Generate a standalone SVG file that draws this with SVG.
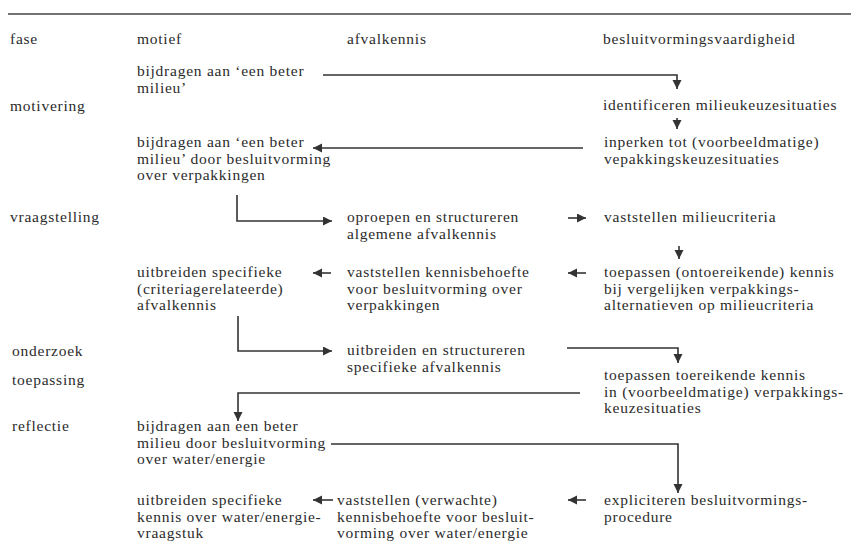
<svg xmlns="http://www.w3.org/2000/svg" width="851" height="552" viewBox="0 0 851 552">
  <style>
    text { font-family: "Liberation Serif", "Times New Roman", serif; font-size: 15.5px; fill: #2b2b2b; letter-spacing: 0.75px; }
    .c { fill: none; stroke: #333; stroke-width: 1.6; }
    .rule { stroke: #444; stroke-width: 1.5; }
  </style>
  <defs>
    <marker id="ah" markerUnits="userSpaceOnUse" markerWidth="10" markerHeight="10" refX="9" refY="4.5" orient="auto">
      <path d="M0,0 L9,4.5 L0,9 z" fill="#333"/>
    </marker>
  </defs>
  <rect width="851" height="552" fill="#fff"/>

  <!-- table header -->
  <line class="rule" x1="8" y1="14" x2="851" y2="14"/>
  <g id="header">
    <text x="10" y="44">fase</text>
    <text x="137" y="44">motief</text>
    <text x="347" y="44">afvalkennis</text>
    <text x="603" y="44">besluitvormingsvaardigheid</text>
  </g>

  <!-- phase labels -->
  <g id="phases">
    <text x="10" y="111">motivering</text>
    <text x="10" y="222">vraagstelling</text>
    <text x="12" y="356">onderzoek</text>
    <text x="12" y="385">toepassing</text>
    <text x="12" y="431">reflectie</text>
  </g>

  <!-- steps -->
  <g id="motief-milieu">
    <text x="137" y="76">bijdragen aan ‘een beter</text>
    <text x="137" y="92.5">milieu’</text>
  </g>
  <g id="identificeren">
    <text x="603" y="110">identificeren milieukeuzesituaties</text>
  </g>
  <g id="inperken">
    <text x="604" y="147">inperken tot (voorbeeldmatige)</text>
    <text x="604" y="163.5">vepakkingskeuzesituaties</text>
  </g>
  <g id="motief-verpakkingen">
    <text x="137" y="147">bijdragen aan ‘een beter</text>
    <text x="137" y="163.5">milieu’ door besluitvorming</text>
    <text x="137" y="180">over verpakkingen</text>
  </g>
  <g id="oproepen">
    <text x="347" y="222">oproepen en structureren</text>
    <text x="347" y="238.5">algemene afvalkennis</text>
  </g>
  <g id="milieucriteria">
    <text x="604" y="222">vaststellen milieucriteria</text>
  </g>
  <g id="uitbreiden-criteria">
    <text x="137" y="277">uitbreiden specifieke</text>
    <text x="137" y="293.5">(criteriagerelateerde)</text>
    <text x="137" y="310">afvalkennis</text>
  </g>
  <g id="kennisbehoefte">
    <text x="347" y="277">vaststellen kennisbehoefte</text>
    <text x="347" y="293.5">voor besluitvorming over</text>
    <text x="347" y="310">verpakkingen</text>
  </g>
  <g id="ontoereikend">
    <text x="604" y="277">toepassen (ontoereikende) kennis</text>
    <text x="604" y="293.5">bij vergelijken verpakkings-</text>
    <text x="604" y="310">alternatieven op milieucriteria</text>
  </g>
  <g id="uitbreiden-structureren">
    <text x="347" y="355">uitbreiden en structureren</text>
    <text x="347" y="371.5">specifieke afvalkennis</text>
  </g>
  <g id="toereikend">
    <text x="604" y="380">toepassen toereikende kennis</text>
    <text x="604" y="396.5">in (voorbeeldmatige) verpakkings-</text>
    <text x="604" y="413">keuzesituaties</text>
  </g>
  <g id="motief-water">
    <text x="137" y="431">bijdragen aan een beter</text>
    <text x="137" y="447.5">milieu door besluitvorming</text>
    <text x="137" y="464">over water/energie</text>
  </g>
  <g id="uitbreiden-water">
    <text x="137" y="505">uitbreiden specifieke</text>
    <text x="137" y="521.5">kennis over water/energie-</text>
    <text x="137" y="538">vraagstuk</text>
  </g>
  <g id="verwachte-behoefte">
    <text x="337" y="505">vaststellen (verwachte)</text>
    <text x="337" y="521.5">kennisbehoefte voor besluit-</text>
    <text x="337" y="538">vorming over water/energie</text>
  </g>
  <g id="expliciteren">
    <text x="604" y="505">expliciteren besluitvormings-</text>
    <text x="604" y="521.5">procedure</text>
  </g>

  <!-- connectors -->
  <g id="connectors">
    <path class="c" marker-end="url(#ah)" d="M323,75 H677 V89"/>
    <path class="c" marker-end="url(#ah)" d="M677,118 V129"/>
    <path class="c" marker-end="url(#ah)" d="M583,148 H313"/>
    <path class="c" marker-end="url(#ah)" d="M237,195 V221 H332"/>
    <path class="c" marker-end="url(#ah)" d="M568,218 H586"/>
    <path class="c" marker-end="url(#ah)" d="M679,246 V259"/>
    <path class="c" marker-end="url(#ah)" d="M586,273 H568"/>
    <path class="c" marker-end="url(#ah)" d="M331,273 H313"/>
    <path class="c" marker-end="url(#ah)" d="M238,316 V351 H332"/>
    <path class="c" marker-end="url(#ah)" d="M567,348 H678 V363"/>
    <path class="c" marker-end="url(#ah)" d="M580,393 H238 V421"/>
    <path class="c" marker-end="url(#ah)" d="M331,444 H678 V493"/>
    <path class="c" marker-end="url(#ah)" d="M586,500 H568"/>
    <path class="c" marker-end="url(#ah)" d="M333,500 H313"/>
  </g>
</svg>
